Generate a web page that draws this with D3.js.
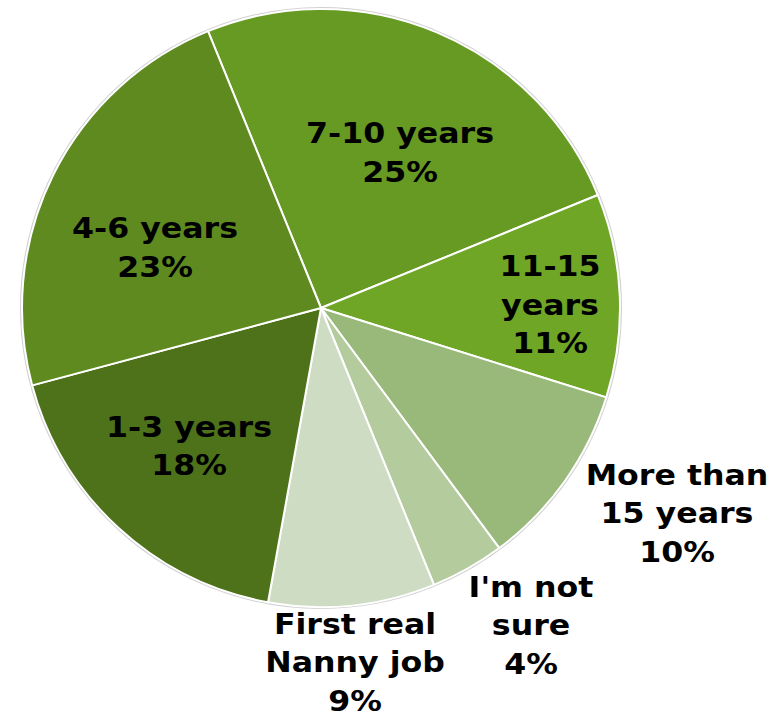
<!DOCTYPE html>
<html>
<head>
<meta charset="utf-8">
<script src="https://cdn.jsdelivr.net/npm/d3@7"></script>
<style>
  body { margin: 0; background: #fff; }
  text { font-family: "DejaVu Sans", Verdana, sans-serif; font-weight: bold; }
</style>
</head>
<body>
<div id="chart"></div>
<script>
// Slices in clockwise order, starting at the top-left edge
const categories = ["7-10 years", "11-15 years", "More than 15 years", "I'm not sure", "First real Nanny job", "1-3 years", "4-6 years"];
const values = [25, 11, 10, 4, 9, 18, 23];
const labelLines = [
  ["7-10 years", "25%"],
  ["11-15", "years", "11%"],
  ["More than", "15 years", "10%"],
  ["I'm not", "sure", "4%"],
  ["First real", "Nanny job", "9%"],
  ["1-3 years", "18%"],
  ["4-6 years", "23%"]
];
const colors = ["#679a23", "#6fa626", "#98b97a", "#b4cb9e", "#cfdcc4", "#4e7219", "#5e8a1f"];

// label anchors (center x, first baseline) relative to pie center
const labelAt = [[79, -165], [229, -32], [356, 177], [210, 289], [34, 326], [-132, 129], [-166, -70]];

const width = 784, height = 713;
const cx = 321, cy = 308, r = 299;
const lineH = 38.5;

const svg = d3.select("#chart").append("svg")
  .attr("width", width)
  .attr("height", height);

const g = svg.append("g").attr("transform", `translate(${cx},${cy})`);

const startA = -22.2 * Math.PI / 180;
const pie = d3.pie().sort(null).value(d => d)
  .startAngle(startA).endAngle(startA + 2 * Math.PI);
const arc = d3.arc().innerRadius(0).outerRadius(r);

// faint outline round the pie
g.append("circle").attr("r", r + 1).attr("fill", "none")
  .attr("stroke", "#d0d0d0").attr("stroke-width", 2);

g.selectAll("path.slice")
  .data(pie(values))
  .enter().append("path")
  .attr("class", "slice")
  .attr("d", arc)
  .attr("fill", (d, i) => colors[i])
  .attr("stroke", "#fff")
  .attr("stroke-width", 2)
  .attr("stroke-linejoin", "round");

// Verdana-like width: stretch DejaVu Bold a bit sideways
const labels = g.selectAll("text.lbl")
  .data(labelLines)
  .enter().append("text")
  .attr("class", "lbl")
  .attr("text-anchor", "middle")
  .attr("font-size", 28)
  .attr("fill", "#000")
  .attr("transform", (d, i) => `translate(${labelAt[i][0]},0) scale(1.13,1)`);

labels.each(function(lines, i) {
  const t = d3.select(this);
  lines.forEach((s, j) => {
    t.append("tspan")
      .attr("x", 0)
      .attr("y", labelAt[i][1] + j * lineH)
      .text(s);
  });
});
</script>
</body>
</html>
